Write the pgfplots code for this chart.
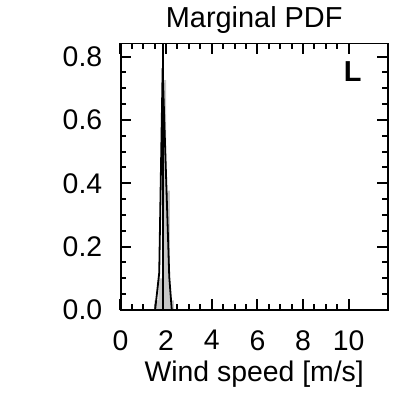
\documentclass[border=0pt]{standalone}
\usepackage{pgfplots}
\pgfplotsset{compat=1.18}
\usepackage{fontspec}
\setmainfont{Liberation Sans}
\begin{document}
\begin{tikzpicture}
\useasboundingbox (-120.4bp,-83bp) rectangle (295.6bp,310bp);
\begin{axis}[
  at={(0,0)}, anchor=south west,
  scale only axis, width=267.6bp, height=266.7bp,
  xmin=0, xmax=11.72, ymin=0, ymax=0.842,
  xtick={0,2,4,6,8,10}, ytick={0,0.2,0.4,0.6,0.8},
  minor x tick num=3, minor y tick num=3,
  tick align=inside,
  xtick pos=both, ytick pos=both,
  major tick length=11bp, minor tick length=6bp,
  every tick/.style={black, line width=2bp},
  tick label style={font=\fontsize{28.5}{34}\selectfont},
  /pgf/number format/assume math mode=true,
  yticklabel style={/pgf/number format/fixed, /pgf/number format/fixed zerofill,
    /pgf/number format/precision=1, anchor=east, inner sep=0pt, xshift=-18bp},
  xticklabel style={anchor=north, inner sep=0pt, yshift=-20bp},
  title={Marginal PDF},
  title style={font=\fontsize{29}{34}\selectfont, anchor=base, at={(0.5,1)}, yshift=10bp, inner sep=0pt},
  xlabel={Wind speed [m/s]},
  xlabel style={font=\fontsize{28.5}{34}\selectfont, at={(0.5,0)}, anchor=north, yshift=-51bp, inner sep=0pt},
]
% histogram of the samples
\addplot[ybar interval, fill=black!22, draw=none] coordinates {
  (1.49,0.03) (1.66,0.10) (1.83,0.726) (2.00,0.377) (2.17,0.03) (2.34,0)
};
% estimated density
\addplot[black, line width=1.8bp, line join=round] coordinates {
  (1.52,0) (1.70,0.117) (1.85,0.763) (2.14,0.105) (2.25,0)
};
% mean wind speed
\addplot[black, line width=1.7bp] coordinates {(1.88,0) (1.88,0.842)};
% heavy frame around the plot area
\draw[black, line width=2.4bp] (rel axis cs:0,0) rectangle (rel axis cs:1,1);
\node[anchor=north east, inner sep=0pt, font=\bfseries\fontsize{29}{34}\selectfont]
  at (rel axis cs:0.902,0.931) {L};
\end{axis}
\end{tikzpicture}
\end{document}
